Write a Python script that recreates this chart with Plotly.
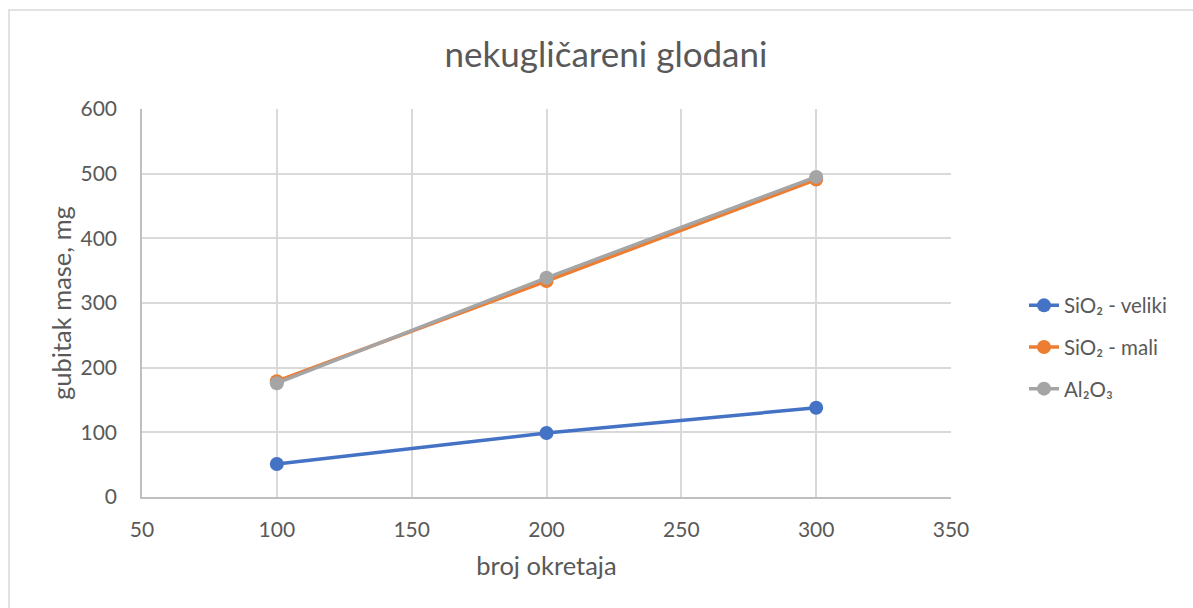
import plotly.graph_objects as go

# rotations (broj okretaja) and mass loss in mg per abrasive
okretaji = [100, 200, 300]
sio2_veliki = [51, 99, 138]
sio2_mali = [179, 334, 491]
al2o3 = [176, 339, 495]

series = [
    ("SiO₂ - veliki", sio2_veliki, "#4472C4"),
    ("SiO₂ - mali", sio2_mali, "#ED7D31"),
    ("Al₂O₃", al2o3, "#A5A5A5"),
]

FONT = "Lato"
TXT = "#595959"

fig = go.Figure()
for i, (name, vals, col) in enumerate(series):
    fig.add_trace(go.Scatter(
        x=okretaji, y=vals, name=name, mode="lines+markers",
        line=dict(color=col, width=3.5),
        marker=dict(color=col, size=14),
        legendgroup=f"g{i}",
    ))

W, H = 1193, 608
L, R, T, B = 142, 951, 109, 497

fig.update_layout(
    width=W, height=H, autosize=False,
    margin=dict(l=L, r=W - R, t=T, b=H - B, pad=0),
    paper_bgcolor="white", plot_bgcolor="white",
    font=dict(family=FONT, color=TXT, size=21),
    title=dict(text="nekugličareni glodani", x=606 / W, y=1 - 55 / H,
               xref="container", yref="container",
               xanchor="center", yanchor="middle",
               font=dict(size=35, color=TXT, family=FONT)),
    xaxis=dict(range=[50, 350], tick0=50, dtick=50, showgrid=True,
               gridcolor="#d9d9d9", gridwidth=1.5, zeroline=False,
               showline=True, linecolor="#bfbfbf", linewidth=1.5,
               ticks="", ticklabelstandoff=13,
               tickfont=dict(size=21, color=TXT),
               title=dict(text="broj okretaja", standoff=17,
                          font=dict(size=25.5, color=TXT))),
    yaxis=dict(range=[0, 600], tick0=0, dtick=100, showgrid=True,
               gridcolor="#d9d9d9", gridwidth=1.5, zeroline=False,
               showline=True, linecolor="#bfbfbf", linewidth=1.5,
               ticks="", ticklabelstandoff=19,
               tickfont=dict(size=21, color=TXT)),
    legend=dict(x=(1024 - L) / (R - L), y=(B - 347) / (B - T),
                xanchor="left", yanchor="middle",
                tracegroupgap=12, font=dict(size=20.5, color=TXT),
                bgcolor="rgba(0,0,0,0)"),
    showlegend=True,
)

# y-axis title, placed beside the tick labels
fig.add_annotation(text="gubitak mase, mg", textangle=-90,
                   xref="paper", yref="paper",
                   x=(61 - L) / (R - L), y=0.5,
                   xanchor="center", yanchor="middle", showarrow=False,
                   font=dict(size=25.5, color=TXT, family=FONT))

# outer chart frame
fig.add_shape(type="rect", xref="paper", yref="paper",
              x0=(9 - L) / (R - L), x1=(W + 20 - L) / (R - L),
              y0=(B - (H + 20)) / (B - T), y1=(B - 10) / (B - T),
              line=dict(color="#d9d9d9", width=1.5), layer="below")

fig.write_html("out.html")
